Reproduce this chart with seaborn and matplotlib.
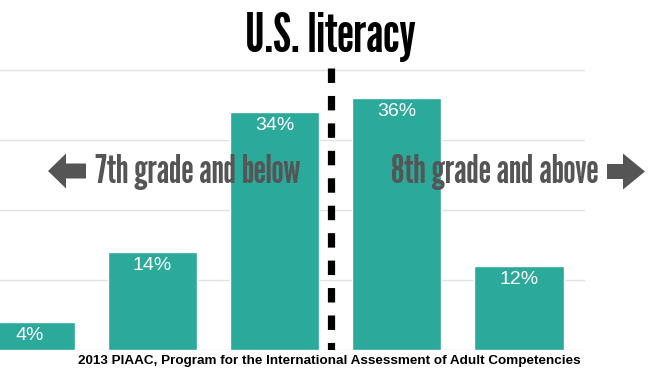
import matplotlib
matplotlib.use("Agg")
import matplotlib.pyplot as plt
import matplotlib.transforms as mtransforms
from matplotlib.patches import FancyArrow
import seaborn as sns
import pandas as pd

levels = ["Below Level 1", "Level 1", "Level 2", "Level 3", "Level 4/5"]
shares = [4, 14, 34, 36, 12]
labels = ["4%", "14%", "34%", "36%", "12%"]
gridlines = [0, 10, 20, 30, 40]

teal = "#2ba99a"
grey = "#555555"
narrow = ["League Gothic", "Oswald", "Fjalla One", "Barlow Condensed", "DejaVu Sans"]

sns.set_theme(style="white")
plt.rcParams["font.family"] = ["Liberation Sans", "DejaVu Sans"]

df = pd.DataFrame({"level": levels, "share": shares})

fig = plt.figure(figsize=(6.48, 3.70), dpi=100)
ax = fig.add_axes([0, 20 / 370, 585 / 648, 350 / 370])

for g in gridlines:
    ax.axhline(g, color="#e2e2e2", lw=1, zorder=0)

sns.barplot(data=df, x="level", y="share", color=teal, saturation=1,
            width=0.73, ax=ax, zorder=2)

for i, (v, lab) in enumerate(zip(shares, labels)):
    ax.text(i, v - 1.9, lab, ha="center", va="center", color="white",
            fontsize=14, zorder=3)

# dashed divider, drawn top-down so the pattern starts at the top gridline
ax.plot([2.46, 2.46], [40.3, 0], color="black", lw=5.2,
        dashes=(2.0, 1.8), zorder=3)

ax.set_xlim(-0.246, 4.54)
ax.set_ylim(0, 50)
ax.set_xlabel("")
ax.set_ylabel("")
ax.set_xticks([])
ax.set_yticks([])
sns.despine(ax=ax, left=True, bottom=True)

fig.text(330 / 648, 1 - 37 / 370, "U.S. literacy", ha="center", va="center",
         fontsize=38.5, family=narrow, color="black")

fig.text(95 / 648, 1 - 172 / 370, "7th grade and below", ha="left",
         va="center", fontsize=28, family=narrow, color=grey, zorder=5)
fig.text(598 / 648, 1 - 172 / 370, "8th grade and above", ha="right",
         va="center", fontsize=28, family=narrow, color=grey, zorder=5)

ident = mtransforms.IdentityTransform()
fig.patches.append(FancyArrow(86, 370 - 171, -38, 0, width=15, head_width=35,
                              head_length=18, length_includes_head=True,
                              color=grey, lw=0, transform=ident, figure=fig))
fig.patches.append(FancyArrow(607, 370 - 171.5, 38, 0, width=15, head_width=36,
                              head_length=22, length_includes_head=True,
                              color=grey, lw=0, transform=ident, figure=fig))

fig.text(329 / 648, 1 - 361 / 370,
         "2013 PIAAC, Program for the International Assessment of Adult Competencies",
         ha="center", va="center", fontsize=9.7, fontweight="bold", color="black")

fig.savefig("out.png", dpi=100)
